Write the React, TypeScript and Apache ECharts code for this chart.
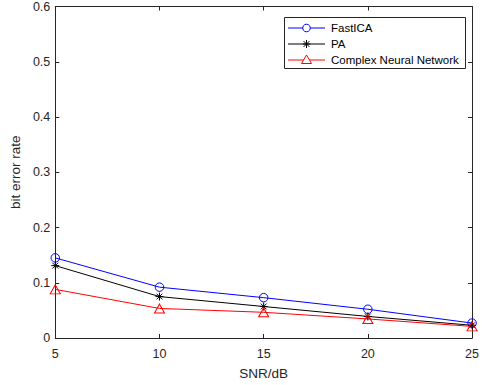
import React, { useEffect, useRef } from "react";
import * as echarts from "echarts";

const snr = [5, 10, 15, 20, 25];
const fastICA = [0.145, 0.092, 0.073, 0.052, 0.027];
const pa = [0.131, 0.075, 0.057, 0.039, 0.023];
const cnn = [0.088, 0.0535, 0.0465, 0.0345, 0.021];
const yTicks = [0, 0.1, 0.2, 0.3, 0.4, 0.5, 0.6];
const xTicks = [5, 10, 15, 20, 25];
const seriesNames = ["FastICA", "PA", "Complex Neural Network"];
const seriesColors = ["#0000ff", "#000000", "#ff0000"];

const FONT = "'Liberation Sans', Arial, sans-serif";
const AX = "#262626";
const CIRCLE = "path://M4,0A4,4 0 1 1 -4,0A4,4 0 1 1 4,0Z";
const STAR = "path://M0,-5L0,5M-5,0L5,0M-3.6,-3.6L3.6,3.6M-3.6,3.6L3.6,-3.6";
const TRI = "path://M0,-5.5L5,3.5L-5,3.5Z";

function starLines(cx: number, cy: number, r: number, color: string) {
  const d = r * 0.72;
  const segs = [
    [0, -r, 0, r],
    [-r, 0, r, 0],
    [-d, -d, d, d],
    [-d, d, d, -d],
  ];
  return segs.map((s) => ({
    type: "line",
    shape: { x1: cx + s[0], y1: cy + s[1], x2: cx + s[2], y2: cy + s[3] },
    style: { stroke: color, lineWidth: 1 },
  }));
}

function legendGraphic() {
  const left = 284.5;
  const top = 17.5;
  const rowY = [28, 44, 60];
  const x1 = 288;
  const x2 = 325;
  const mx = (x1 + x2) / 2;
  const els: any[] = [
    {
      type: "rect",
      shape: { x: left, y: top, width: 181, height: 51 },
      style: { fill: "#fff", stroke: AX, lineWidth: 1 },
    },
  ];
  rowY.forEach((y, i) => {
    const c = seriesColors[i];
    els.push({
      type: "line",
      shape: { x1, y1: y, x2, y2: y },
      style: { stroke: c, lineWidth: 1 },
    });
    if (i === 0) {
      els.push({
        type: "circle",
        shape: { cx: mx, cy: y, r: 3.8 },
        style: { fill: "#fff", stroke: c, lineWidth: 1 },
      });
    } else if (i === 1) {
      els.push(...starLines(mx, y, 4, c));
    } else {
      els.push({
        type: "polygon",
        shape: { points: [[mx, y - 5], [mx + 5, y + 3.5], [mx - 5, y + 3.5]] },
        style: { fill: "#fff", stroke: c, lineWidth: 1 },
      });
    }
    els.push({
      type: "text",
      x: 331,
      y,
      style: {
        text: seriesNames[i],
        fill: "#000",
        font: `11.5px ${FONT}`,
        verticalAlign: "middle",
        align: "left",
      },
    });
  });
  return { type: "group", z: 100, children: els };
}

export default function App() {
  const ref = useRef<HTMLDivElement>(null);
  useEffect(() => {
    document.body.style.margin = "0";
    const chart = echarts.init(ref.current!, null, { renderer: "svg" });
    const pts = (ys: number[]) => snr.map((x, i) => [x, ys[i]]);
    const axisCommon = {
      type: "value" as const,
      axisLine: { show: true, onZero: false, lineStyle: { color: AX, width: 1 } },
      axisTick: { show: true, inside: true, length: 4, lineStyle: { color: AX } },
      splitLine: { show: false },
    };
    const symStyle = (c: string) => ({
      color: "rgba(255,255,255,0)",
      borderColor: c,
      borderWidth: 1,
    });
    chart.setOption({
      animation: false,
      backgroundColor: "#fff",
      textStyle: { fontFamily: FONT },
      grid: { left: 51, right: 5, top: 6, bottom: 43, containLabel: false },
      graphic: [legendGraphic()],
      xAxis: [
        {
          ...axisCommon,
          min: 5,
          max: 25,
          interval: 5,
          position: "bottom",
          name: "SNR/dB",
          nameLocation: "middle",
          nameGap: 28,
          nameTextStyle: { fontSize: 13.5, color: AX, fontFamily: FONT },
          axisLabel: {
            fontSize: 12.5,
            color: AX,
            margin: 9,
            fontFamily: FONT,
            formatter: (v: number) => (xTicks.includes(v) ? String(v) : ""),
          },
        },
        {
          ...axisCommon,
          min: 5,
          max: 25,
          interval: 5,
          position: "top",
          axisLabel: { show: false },
        },
      ],
      yAxis: [
        {
          ...axisCommon,
          min: 0,
          max: 0.6,
          interval: 0.1,
          position: "left",
          name: "bit error rate",
          nameLocation: "middle",
          nameGap: 29,
          nameTextStyle: { fontSize: 13.5, color: AX, fontFamily: FONT },
          axisLabel: {
            fontSize: 12.5,
            color: AX,
            margin: 5,
            fontFamily: FONT,
            formatter: (v: number) => {
              const t = yTicks.find((k) => Math.abs(k - v) < 1e-9);
              return t === undefined ? "" : t === 0 ? "0" : t.toFixed(1);
            },
          },
        },
        {
          ...axisCommon,
          min: 0,
          max: 0.6,
          interval: 0.1,
          position: "right",
          axisLabel: { show: false },
        },
      ],
      series: [
        {
          name: seriesNames[0],
          type: "line",
          data: pts(fastICA),
          symbol: CIRCLE,
          symbolSize: 8.5,
          lineStyle: { color: seriesColors[0], width: 1 },
          itemStyle: symStyle(seriesColors[0]),
        },
        {
          name: seriesNames[1],
          type: "line",
          data: pts(pa),
          symbol: STAR,
          symbolSize: 8,
          lineStyle: { color: seriesColors[1], width: 1 },
          itemStyle: symStyle(seriesColors[1]),
        },
        {
          name: seriesNames[2],
          type: "line",
          data: pts(cnn),
          symbol: TRI,
          symbolSize: [10, 9],
          lineStyle: { color: seriesColors[2], width: 1 },
          itemStyle: symStyle(seriesColors[2]),
        },
      ],
    });
    return () => chart.dispose();
  }, []);
  return (
    <div
      ref={ref}
      style={{ position: "absolute", left: 0, top: 0, width: 482, height: 385 }}
    />
  );
}
